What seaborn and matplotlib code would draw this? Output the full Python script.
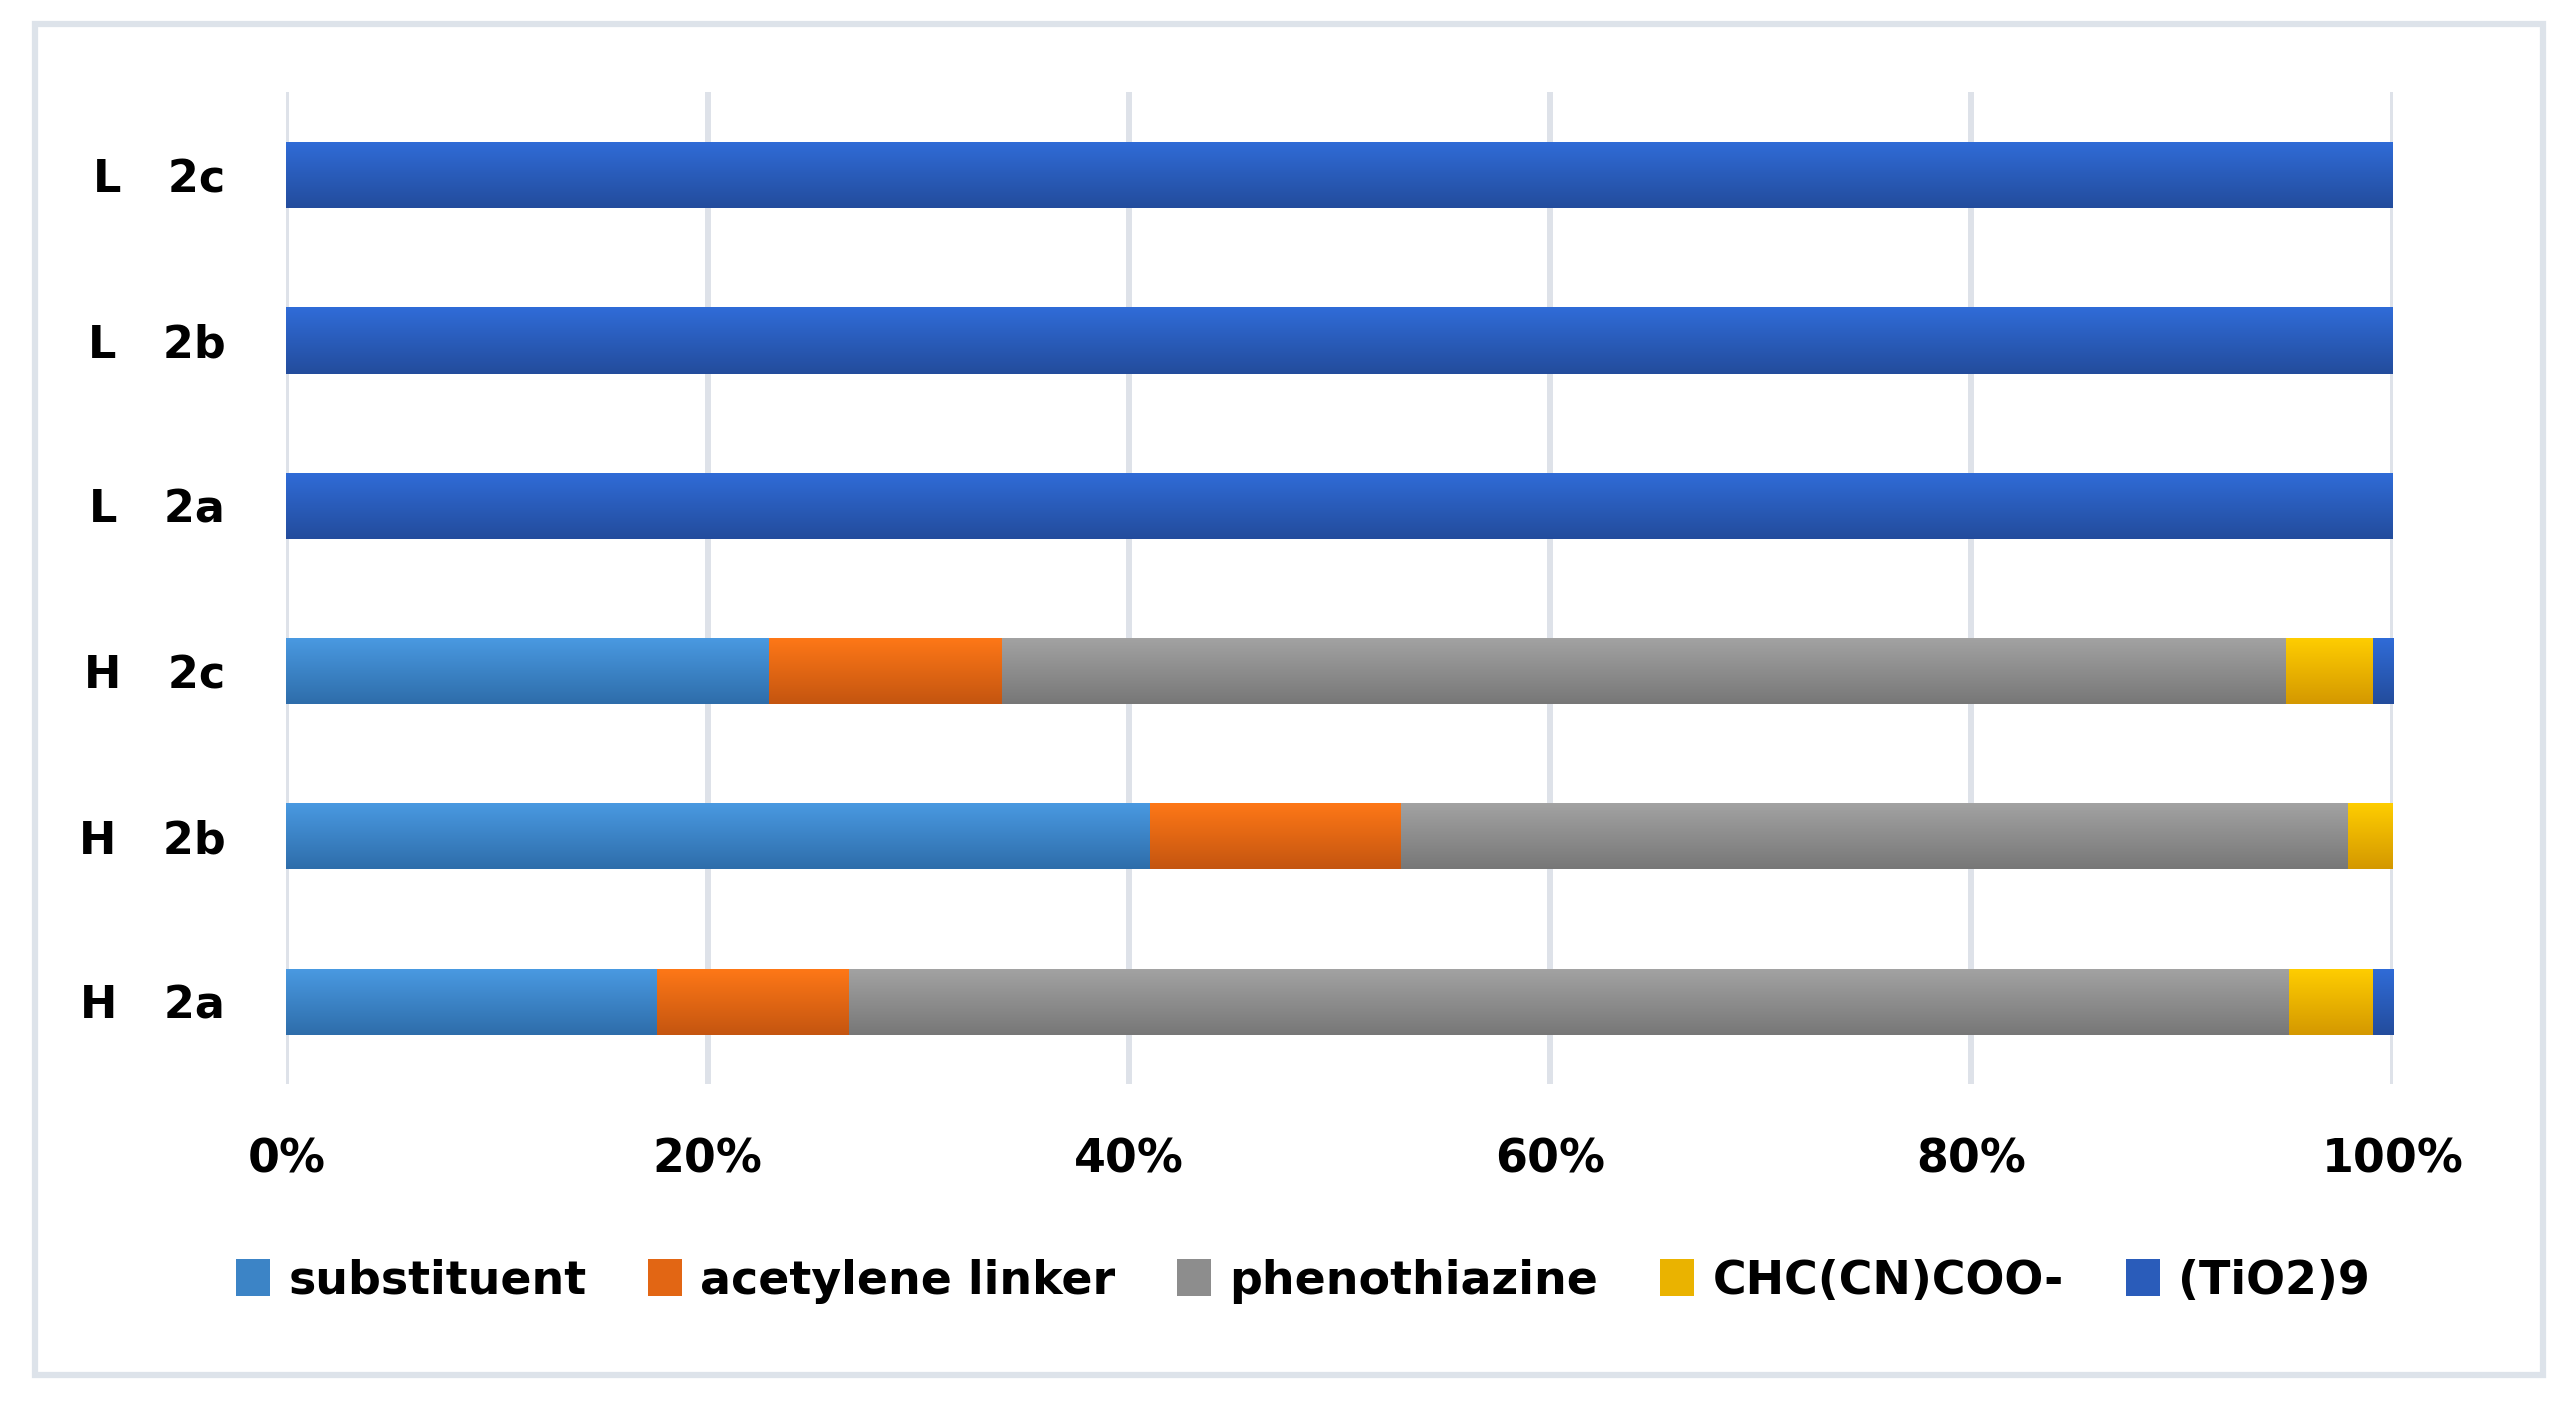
import numpy as np
import pandas as pd
import matplotlib
matplotlib.use("Agg")
import matplotlib.pyplot as plt
import matplotlib.colors as mcolors
from matplotlib import font_manager
from matplotlib.patches import Rectangle
import seaborn as sns

# ---- data ----
categories = ["L   2c", "L   2b", "L   2a", "H   2c", "H   2b", "H   2a"]
series_names = ["substituent", "acetylene linker", "phenothiazine", "CHC(CN)COO-", "(TiO2)9"]
substituent = [0.0, 0.0, 0.0, 22.9, 41.0, 17.6]
acetylene = [0.0, 0.0, 0.0, 11.1, 11.9, 9.1]
phenothiazine = [0.0, 0.0, 0.0, 60.95, 45.0, 68.4]
chc_cn_coo = [0.0, 0.0, 0.0, 4.1, 2.1, 3.95]
tio2 = [100.0, 100.0, 100.0, 0.95, 0.0, 0.95]
xtick_labels = ["0%", "20%", "40%", "60%", "80%", "100%"]

# gradient (top, bottom) colours per series
grad_colors = [
    ("#4A9AE2", "#2E6DAA"),
    ("#FF7817", "#C45510"),
    ("#A3A3A3", "#777777"),
    ("#FFCE00", "#D49800"),
    ("#306CD8", "#234C9C"),
]

series_values = [substituent, acetylene, phenothiazine, chc_cn_coo, tio2]

sns.set_theme(style="white")
plt.rcParams["font.family"] = ["DejaVu Sans"]

# condensed legend font if available
available = {f.name for f in font_manager.fontManager.ttflist}
if "Liberation Sans Narrow" in available:
    leg_family = ["Liberation Sans Narrow", "DejaVu Sans"]
    leg_size = 46
else:
    leg_family = ["DejaVu Sans"]
    leg_size = 33

fig = plt.figure(figsize=(25.66, 14.01), dpi=100)
ax = fig.add_axes([0.1116, 0.2260, 0.8208, 0.7080])

left = np.zeros(len(categories))
groups = []
for name, vals, (ctop, cbot) in zip(series_names, series_values, grad_colors):
    df = pd.DataFrame({"cat": categories, "val": vals})
    mid = mcolors.to_hex(
        (np.array(mcolors.to_rgb(ctop)) + np.array(mcolors.to_rgb(cbot))) / 2
    )
    n_before = len(ax.patches)
    sns.barplot(data=df, x="val", y="cat", order=categories, orient="h",
                color=mid, width=0.4, left=left.copy(), label=name,
                edgecolor="none", linewidth=0, ax=ax, errorbar=None,
                saturation=1)
    groups.append((list(ax.patches[n_before:]), ctop, cbot))
    left = left + np.array(vals)

ax.set_xlim(0, 100)
ax.set_ylim(5.5, -0.5)

# vertical gradient fill clipped to each bar
for patches, ctop, cbot in groups:
    cmap = mcolors.LinearSegmentedColormap.from_list("g", [ctop, cbot])
    grad = np.linspace(0, 1, 256).reshape(-1, 1)
    for p in patches:
        x0, y0 = p.get_x(), p.get_y()
        w, h = p.get_width(), p.get_height()
        if w <= 0:
            continue
        im = ax.imshow(grad, cmap=cmap, aspect="auto",
                       extent=(x0, x0 + w, y0 + h, y0), zorder=p.get_zorder() + 0.1,
                       interpolation="bilinear")
        im.set_clip_path(p)

ax.set_xlim(0, 100)
ax.set_ylim(5.5, -0.5)

ax.set_xticks(np.arange(0, 101, 20))
ax.set_xticklabels(xtick_labels)
ax.set_xlabel("")
ax.set_ylabel("")
ax.grid(axis="x", color="#DEE2E9", linewidth=4.3, zorder=0)
ax.set_axisbelow(True)
for s in ax.spines.values():
    s.set_visible(False)
ax.tick_params(axis="x", length=0, pad=38, labelsize=33, labelcolor="black")
ax.tick_params(axis="y", length=0, pad=44, labelsize=32, labelcolor="black")
for t in ax.get_xticklabels() + ax.get_yticklabels():
    t.set_fontweight("bold")

# legend
handles, labels = ax.get_legend_handles_labels()
em = leg_size * 100 / 72.0
leg = fig.legend(handles, labels, loc="center", bbox_to_anchor=(0.5077, 0.0855),
                 ncol=5, frameon=False,
                 handlelength=34 / em, handleheight=40 / em,
                 handletextpad=18 / em, columnspacing=62 / em,
                 prop={"weight": "bold", "size": leg_size, "family": leg_family})
for t in leg.get_texts():
    t.set_color("black")
if ax.get_legend() is not None:
    ax.get_legend().remove()

# outer border
fig.patches.append(Rectangle((0.0135, 0.0185), 0.9775, 0.9645, transform=fig.transFigure,
                             fill=False, edgecolor="#DDE3EA", linewidth=4.5))

fig.savefig("out.png", dpi=100)
